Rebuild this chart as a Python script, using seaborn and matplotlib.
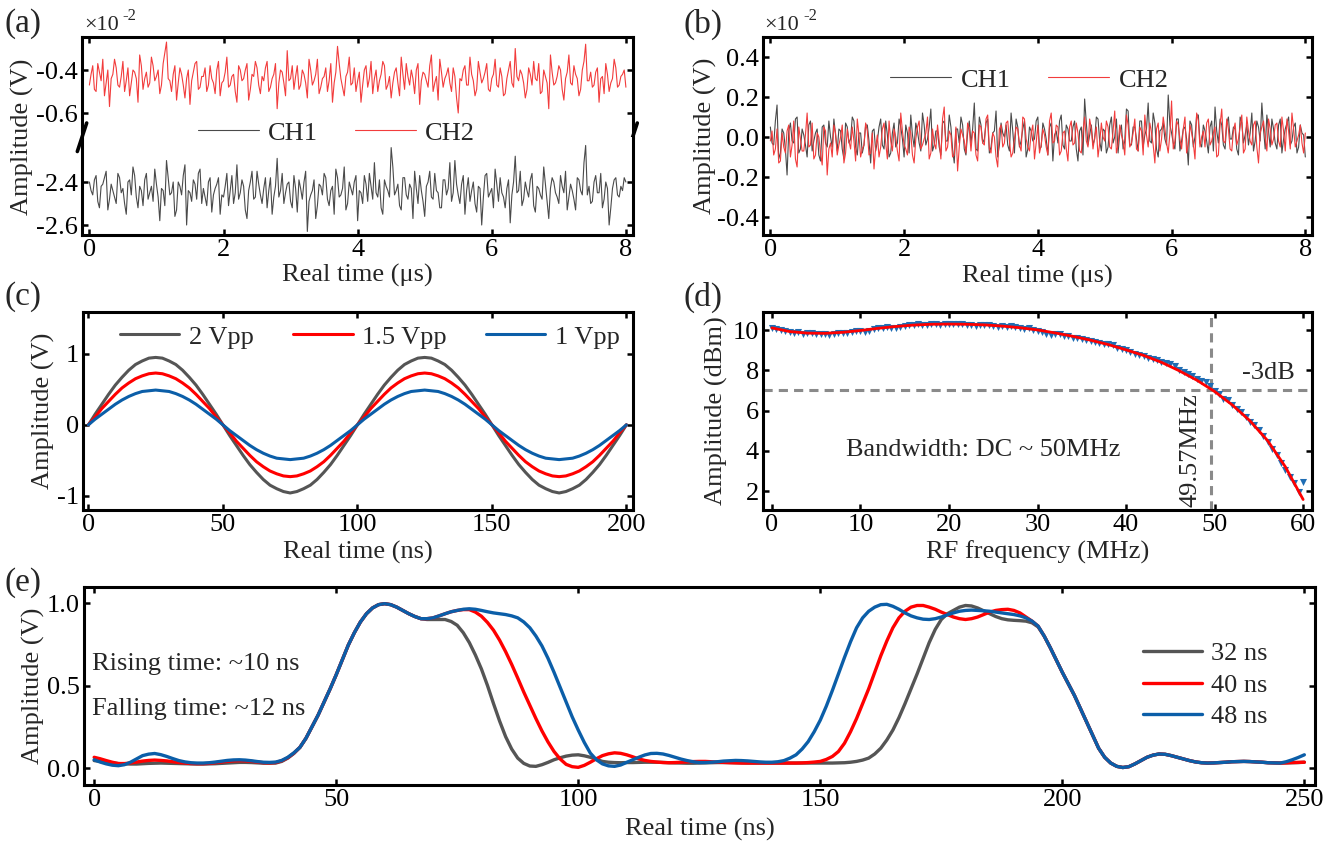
import numpy as np
import matplotlib
matplotlib.use("Agg")
import matplotlib.pyplot as plt
from matplotlib.ticker import FormatStrFormatter
import seaborn as sns

# ============ DATA ============
# (a) / (b): noise traces, amplitude in units of 1e-2 V, 0..8 us
TEMPO_US = np.linspace(0, 8, 161)          # samples on the 0.05 us grid
TEMPO_US_MEIO = np.linspace(0.025, 7.975, 160)  # samples in between

CH1_A = [
    -2.40, -2.46, -2.37, -2.52, -2.41, -2.35, -2.48, -2.44, -2.50, -2.38,
    -2.43, -2.55, -2.39, -2.33, -2.47, -2.42, -2.51, -2.36, -2.45, -2.49,
    -2.41, -2.58, -2.44, -2.30, -2.46, -2.40, -2.53, -2.42, -2.37, -2.60,
    -2.45, -2.39, -2.48, -2.34, -2.43, -2.51, -2.38, -2.46, -2.41, -2.55,
    -2.47, -2.36, -2.44, -2.50, -2.32, -2.45, -2.42, -2.57, -2.40, -2.48,
    -2.35, -2.46, -2.43, -2.52, -2.38, -2.47, -2.29, -2.44, -2.50, -2.41,
    -2.49, -2.37, -2.54, -2.43, -2.40, -2.63, -2.46, -2.39, -2.51, -2.42,
    -2.36, -2.48, -2.44, -2.55, -2.38, -2.46, -2.33, -2.50, -2.43, -2.40,
    -2.58, -2.45, -2.37, -2.49, -2.42, -2.31, -2.47, -2.52, -2.39, -2.44,
    -2.24, -2.46, -2.41, -2.53, -2.38, -2.48, -2.43, -2.35, -2.50, -2.44,
    -2.56, -2.40, -2.47, -2.36, -2.45, -2.52, -2.39, -2.43, -2.49, -2.30,
    -2.46, -2.41, -2.55, -2.38, -2.44, -2.50, -2.42, -2.60, -2.37, -2.47,
    -2.43, -2.34, -2.49, -2.45, -2.52, -2.39, -2.46, -2.28, -2.44, -2.51,
    -2.40, -2.47, -2.36, -2.54, -2.43, -2.48, -2.41, -2.57, -2.38, -2.45,
    -2.50, -2.42, -2.35, -2.47, -2.44, -2.53, -2.39, -2.46, -2.23, -2.42,
    -2.49, -2.37, -2.45, -2.52, -2.40, -2.60, -2.43, -2.38, -2.47, -2.44,
    -2.40,
]
CH1_A_MEIO = [
    -2.44, -2.39, -2.49, -2.42, -2.38, -2.53, -2.41, -2.47, -2.36, -2.45,
    -2.50, -2.40, -2.46, -2.37, -2.52, -2.44, -2.39, -2.48, -2.42, -2.34,
    -2.47, -2.43, -2.51, -2.38, -2.45, -2.56, -2.40, -2.46, -2.32, -2.44,
    -2.49, -2.41, -2.36, -2.50, -2.47, -2.40, -2.54, -2.43, -2.38, -2.46,
    -2.42, -2.51, -2.37, -2.45, -2.48, -2.39, -2.53, -2.44, -2.35, -2.47,
    -2.41, -2.50, -2.38, -2.44, -2.55, -2.42, -2.47, -2.36, -2.45, -2.40,
    -2.52, -2.43, -2.39, -2.48, -2.35, -2.49, -2.44, -2.57, -2.41, -2.46,
    -2.38, -2.51, -2.42, -2.34, -2.47, -2.43, -2.53, -2.40, -2.46, -2.37,
    -2.44, -2.50, -2.41, -2.36, -2.48, -2.45, -2.39, -2.55, -2.42, -2.47,
    -2.33, -2.44, -2.51, -2.38, -2.46, -2.41, -2.57, -2.43, -2.37, -2.49,
    -2.42, -2.35, -2.48, -2.44, -2.52, -2.39, -2.46, -2.31, -2.45, -2.41,
    -2.50, -2.37, -2.44, -2.49, -2.40, -2.54, -2.43, -2.47, -2.36, -2.45,
    -2.52, -2.41, -2.38, -2.47, -2.43, -2.59, -2.40, -2.45, -2.35, -2.48,
    -2.44, -2.39, -2.51, -2.42, -2.46, -2.33, -2.49, -2.43, -2.40, -2.47,
    -2.37, -2.45, -2.53, -2.41, -2.48, -2.38, -2.44, -2.31, -2.46, -2.50,
    -2.40, -2.45, -2.36, -2.48, -2.43, -2.52, -2.39, -2.46, -2.42, -2.38,
]
CH2_A = [
    -0.47, -0.38, -0.50, -0.41, -0.35, -0.46, -0.57, -0.42, -0.39, -0.48,
    -0.36, -0.45, -0.52, -0.40, -0.44, -0.33, -0.49, -0.41, -0.46, -0.38,
    -0.43, -0.51, -0.37, -0.27, -0.45, -0.42, -0.54, -0.39, -0.47, -0.44,
    -0.56, -0.41, -0.36, -0.48, -0.43, -0.50, -0.38, -0.46, -0.40, -0.52,
    -0.45, -0.34, -0.47, -0.42, -0.55, -0.40, -0.44, -0.37, -0.49, -0.43,
    -0.39, -0.51, -0.45, -0.36, -0.48, -0.42, -0.58, -0.40, -0.46, -0.31,
    -0.44, -0.49, -0.38, -0.47, -0.42, -0.53, -0.40, -0.45, -0.35, -0.48,
    -0.43, -0.50, -0.37, -0.46, -0.29, -0.44, -0.52, -0.41, -0.47, -0.39,
    -0.45, -0.55, -0.40, -0.48, -0.36, -0.44, -0.50, -0.42, -0.38, -0.47,
    -0.53, -0.41, -0.46, -0.34, -0.49, -0.43, -0.40, -0.51, -0.37, -0.45,
    -0.42, -0.48, -0.33, -0.46, -0.54, -0.41, -0.44, -0.39, -0.50, -0.43,
    -0.60, -0.45, -0.38, -0.47, -0.42, -0.52, -0.36, -0.46, -0.41, -0.49,
    -0.44, -0.35, -0.48, -0.43, -0.51, -0.40, -0.46, -0.30, -0.45, -0.42,
    -0.53, -0.39, -0.47, -0.44, -0.37, -0.50, -0.43, -0.58, -0.41, -0.46,
    -0.38, -0.49, -0.44, -0.33, -0.47, -0.42, -0.52, -0.40, -0.28, -0.45,
    -0.48, -0.41, -0.55, -0.43, -0.37, -0.50, -0.44, -0.39, -0.47, -0.42,
    -0.48,
]
CH2_A_MEIO = [
    -0.42, -0.49, -0.37, -0.45, -0.52, -0.40, -0.44, -0.35, -0.47, -0.43,
    -0.50, -0.39, -0.46, -0.41, -0.55, -0.38, -0.44, -0.48, -0.34, -0.45,
    -0.40, -0.47, -0.32, -0.44, -0.50, -0.38, -0.46, -0.42, -0.53, -0.40,
    -0.45, -0.37, -0.49, -0.43, -0.39, -0.47, -0.44, -0.51, -0.36, -0.46,
    -0.41, -0.48, -0.43, -0.50, -0.38, -0.45, -0.40, -0.54, -0.42, -0.36,
    -0.47, -0.43, -0.39, -0.50, -0.44, -0.37, -0.46, -0.41, -0.52, -0.45,
    -0.38, -0.43, -0.49, -0.40, -0.46, -0.35, -0.47, -0.42, -0.51, -0.44,
    -0.39, -0.45, -0.55, -0.41, -0.37, -0.48, -0.43, -0.34, -0.46, -0.50,
    -0.41, -0.47, -0.38, -0.44, -0.51, -0.40, -0.45, -0.36, -0.49, -0.43,
    -0.46, -0.39, -0.52, -0.42, -0.37, -0.47, -0.44, -0.40, -0.56, -0.41,
    -0.45, -0.38, -0.50, -0.43, -0.35, -0.48, -0.42, -0.46, -0.39, -0.53,
    -0.44, -0.40, -0.47, -0.34, -0.45, -0.49, -0.41, -0.44, -0.37, -0.50,
    -0.42, -0.47, -0.39, -0.52, -0.44, -0.36, -0.48, -0.43, -0.40, -0.46,
    -0.49, -0.42, -0.36, -0.45, -0.51, -0.40, -0.46, -0.33, -0.47, -0.43,
    -0.40, -0.54, -0.41, -0.46, -0.38, -0.44, -0.49, -0.36, -0.45, -0.41,
    -0.47, -0.39, -0.44, -0.51, -0.42, -0.46, -0.35, -0.48, -0.43, -0.40,
]
CH1_B = [
    0.05, -0.04, 0.16, -0.08, 0.02, -0.19, 0.07, -0.03, 0.10, -0.06,
    0.01, -0.10, 0.08, -0.02, 0.04, -0.12, 0.06, -0.05, 0.00, 0.09,
    -0.07, 0.03, -0.11, 0.05, -0.01, 0.08, -0.09, 0.02, -0.04, 0.06,
    -0.13, 0.04, -0.02, 0.09, -0.06, 0.01, -0.08, 0.07, -0.03, 0.05,
    -0.10, 0.02, 0.11, -0.05, 0.03, -0.07, 0.06, -0.01, 0.14, -0.04,
    0.03, -0.09, 0.08, -0.02, 0.05, -0.13, 0.04, 0.10, -0.06, 0.02,
    -0.03, 0.17, -0.07, 0.06, -0.01, 0.09, -0.05, 0.03, -0.10, 0.07,
    0.00, -0.04, 0.12, -0.08, 0.05, -0.02, 0.08, -0.06, 0.03, -0.01,
    0.10, -0.05, 0.04, -0.09, 0.07, 0.01, -0.03, 0.11, -0.06, 0.04,
    -0.02, 0.08, -0.12, 0.05, 0.19, -0.04, 0.06, -0.01, 0.09, -0.07,
    0.03, -0.05, 0.10, 0.00, -0.08, 0.06, -0.02, 0.13, -0.04, 0.05,
    -0.07, 0.08, 0.01, 0.17, -0.03, 0.07, -0.10, 0.04, -0.01, 0.21,
    0.02, -0.06, 0.09, -0.02, 0.05, -0.14, 0.06, 0.00, 0.11, -0.05,
    0.03, -0.08, 0.08, 0.15, -0.03, 0.06, -0.06, 0.10, -0.01, 0.04,
    -0.09, 0.07, 0.01, -0.04, 0.12, -0.02, 0.05, 0.17, -0.06, 0.03,
    0.09, -0.03, 0.06, -0.08, 0.04, 0.10, -0.02, 0.07, -0.05, 0.02,
    -0.10,
]
CH1_B_MEIO = [
    -0.03, 0.08, -0.11, 0.04, -0.06, 0.03, -0.02, 0.09, -0.08, 0.04,
    -0.04, 0.06, -0.07, 0.02, -0.09, 0.05, -0.03, 0.08, -0.05, 0.01,
    0.04, -0.06, 0.07, -0.03, 0.10, -0.05, 0.02, -0.08, 0.06, -0.02,
    0.03, -0.07, 0.05, -0.04, 0.08, -0.10, 0.02, -0.05, 0.09, -0.01,
    0.06, -0.08, 0.01, 0.07, -0.03, 0.12, -0.04, 0.05, -0.07, 0.03,
    -0.05, 0.07, -0.02, 0.11, -0.06, 0.04, -0.03, 0.06, -0.09, 0.08,
    0.04, -0.06, 0.10, -0.03, 0.07, -0.08, 0.02, 0.13, -0.04, 0.02,
    0.06, -0.07, 0.03, 0.09, -0.05, 0.04, -0.10, 0.05, -0.02, 0.08,
    -0.06, 0.07, -0.01, 0.05, -0.12, 0.03, 0.08, -0.04, 0.06, -0.02,
    0.05, -0.06, 0.03, -0.09, 0.07, 0.01, -0.04, 0.10, -0.02, 0.04,
    -0.08, 0.06, -0.03, 0.09, 0.02, -0.06, 0.14, -0.04, 0.05, -0.01,
    0.08, -0.05, 0.04, -0.02, 0.12, -0.06, 0.03, 0.07, -0.04, 0.06,
    -0.03, 0.09, -0.07, 0.04, -0.01, 0.08, -0.05, 0.11, -0.03, 0.06,
    -0.02, 0.05, -0.07, 0.03, 0.09, -0.04, 0.07, -0.01, 0.05, -0.06,
    0.10, -0.03, 0.06, 0.02, -0.07, 0.08, -0.02, 0.04, 0.11, -0.05,
    0.04, -0.06, 0.09, -0.01, 0.07, -0.04, 0.05, -0.08, 0.06, 0.01,
]
CH2_B = [
    -0.02, -0.09, 0.04, -0.12, -0.05, 0.03, -0.10, 0.08, -0.15, -0.01,
    -0.07, 0.12, -0.04, -0.11, 0.02, -0.08, 0.05, -0.19, -0.03, 0.06,
    -0.09, 0.00, -0.13, 0.04, -0.06, -0.02, 0.09, -0.10, -0.04, 0.03,
    -0.08, -0.16, 0.01, -0.05, 0.07, -0.11, -0.02, 0.04, -0.07, 0.12,
    -0.04, -0.09, 0.02, -0.13, 0.05, -0.06, -0.01, 0.10, -0.08, -0.03,
    0.06, -0.11, 0.15, -0.05, 0.01, -0.09, -0.17, 0.04, -0.02, 0.07,
    -0.07, 0.02, -0.12, 0.05, -0.04, 0.11, -0.08, 0.00, -0.15, 0.06,
    -0.03, 0.08, -0.10, -0.01, 0.04, -0.07, 0.09, -0.05, 0.02, -0.11,
    0.06, -0.04, 0.01, -0.09, 0.12, -0.02, 0.05, -0.07, 0.03, -0.12,
    0.08, -0.03, 0.02, -0.08, 0.10, -0.05, 0.04, 0.00, -0.10, 0.07,
    -0.02, 0.05, -0.06, 0.13, -0.04, 0.01, -0.09, 0.06, -0.03, 0.09,
    -0.07, 0.03, 0.11, -0.05, 0.02, -0.13, 0.07, -0.01, 0.04, -0.08,
    0.18, -0.02, 0.06, -0.06, 0.10, -0.04, 0.02, -0.11, 0.08, 0.00,
    -0.05, 0.09, -0.02, 0.05, -0.09, 0.14, -0.03, 0.04, -0.07, 0.07,
    -0.01, 0.11, -0.06, 0.03, -0.04, 0.08, -0.13, 0.05, 0.00, 0.09,
    -0.04, 0.06, -0.02, 0.10, -0.07, 0.03, 0.12, -0.05, 0.01, -0.03,
    0.02,
]
CH2_B_MEIO = [
    0.03, -0.06, -0.13, 0.02, -0.08, 0.06, -0.04, -0.11, 0.05, -0.07,
    0.01, -0.05, 0.07, -0.09, 0.00, -0.14, 0.03, -0.06, -0.10, 0.02,
    -0.04, 0.06, -0.08, -0.02, 0.05, -0.12, 0.01, -0.06, 0.07, -0.09,
    0.02, -0.05, -0.10, 0.04, -0.03, 0.08, -0.07, 0.00, -0.12, 0.03,
    -0.06, 0.05, -0.09, -0.01, 0.08, -0.04, 0.02, -0.11, 0.04, -0.06,
    -0.02, 0.09, -0.07, 0.03, -0.10, 0.05, -0.05, 0.01, -0.08, 0.04,
    0.03, -0.09, 0.06, -0.03, 0.09, -0.06, 0.02, -0.10, 0.04, -0.05,
    0.07, -0.02, -0.08, 0.05, -0.04, 0.10, -0.01, -0.07, 0.06, -0.03,
    -0.08, 0.04, -0.05, 0.08, -0.03, 0.06, -0.09, 0.02, -0.06, 0.05,
    -0.04, 0.07, -0.07, 0.03, -0.02, 0.09, -0.06, 0.05, -0.03, 0.00,
    0.08, -0.05, 0.03, -0.08, 0.06, -0.02, 0.11, -0.05, 0.02, -0.06,
    0.05, -0.09, 0.01, 0.07, -0.04, 0.04, -0.07, 0.10, -0.03, 0.02,
    -0.06, 0.08, -0.01, 0.04, -0.08, 0.06, -0.03, 0.12, -0.05, 0.03,
    0.07, -0.04, 0.02, -0.10, 0.06, -0.02, 0.09, -0.06, 0.03, -0.04,
    0.05, -0.08, 0.10, -0.02, 0.06, -0.05, 0.02, 0.08, -0.07, 0.04,
    -0.01, 0.07, -0.05, 0.03, 0.09, -0.06, 0.04, -0.02, 0.06, -0.08,
]

# (c): sine outputs, 0..200 ns every 2.5 ns
TEMPO_C = np.linspace(0, 200, 81)
V2PP = [
    0, .15, .29, .43, .56, .67, .77, .85, .90, .94, .95, .94, .90, .85, .77, .67, .56, .43, .29, .15,
    0, -.15, -.29, -.43, -.56, -.67, -.77, -.85, -.90, -.94, -.96, -.94, -.90, -.85, -.77, -.67, -.56, -.43, -.29, -.15,
    0, .15, .29, .43, .56, .67, .77, .85, .90, .94, .95, .94, .90, .85, .77, .67, .56, .43, .29, .15,
    0, -.15, -.29, -.43, -.56, -.67, -.77, -.85, -.90, -.94, -.96, -.94, -.90, -.85, -.77, -.67, -.56, -.43, -.29, -.15,
    0,
]
V15PP = [
    0, .11, .23, .33, .43, .52, .59, .65, .69, .72, .73, .72, .69, .65, .59, .52, .43, .33, .23, .11,
    0, -.11, -.23, -.33, -.43, -.52, -.59, -.65, -.69, -.72, -.73, -.72, -.69, -.65, -.59, -.52, -.43, -.33, -.23, -.11,
    0, .11, .23, .33, .43, .52, .59, .65, .69, .72, .73, .72, .69, .65, .59, .52, .43, .33, .23, .11,
    0, -.11, -.23, -.33, -.43, -.52, -.59, -.65, -.69, -.72, -.73, -.72, -.69, -.65, -.59, -.52, -.43, -.33, -.23, -.11,
    0,
]
V1PP = [
    0, .08, .15, .22, .29, .35, .40, .44, .47, .48, .49, .48, .47, .44, .40, .35, .29, .22, .15, .08,
    0, -.08, -.15, -.22, -.29, -.35, -.40, -.44, -.47, -.48, -.49, -.48, -.47, -.44, -.40, -.35, -.29, -.22, -.15, -.08,
    0, .08, .15, .22, .29, .35, .40, .44, .47, .48, .49, .48, .47, .44, .40, .35, .29, .22, .15, .08,
    0, -.08, -.15, -.22, -.29, -.35, -.40, -.44, -.47, -.48, -.49, -.48, -.47, -.44, -.40, -.35, -.29, -.22, -.15, -.08,
    0,
]
LABELS_C = ["2 Vpp", "1.5 Vpp", "1 Vpp"]

# (d): frequency response
FREQ_PTS = np.linspace(0, 60, 121)
AMP_PTS = [
    10.12, 10.05, 10.00, 9.96, 9.92, 9.88, 9.90, 9.82, 9.84, 9.86,
    9.80, 9.79, 9.80, 9.78, 9.80, 9.84, 9.86, 9.88, 9.90, 9.97,
    9.96, 9.92, 9.98, 10.05, 10.08, 10.10, 10.14, 10.12, 10.10, 10.16,
    10.22, 10.24, 10.26, 10.32, 10.24, 10.26, 10.30, 10.28, 10.26, 10.29,
    10.30, 10.28, 10.30, 10.31, 10.27, 10.25, 10.22, 10.27, 10.26, 10.24,
    10.20, 10.16, 10.18, 10.15, 10.18, 10.14, 10.10, 10.04, 10.08, 10.02,
    9.98, 9.90, 9.82, 9.75, 9.82, 9.80, 9.72, 9.70, 9.62, 9.60,
    9.55, 9.52, 9.48, 9.40, 9.36, 9.32, 9.30, 9.24, 9.12, 9.08,
    9.02, 8.90, 8.82, 8.78, 8.70, 8.62, 8.58, 8.52, 8.40, 8.36,
    8.30, 8.20, 8.00, 7.90, 7.82, 7.70, 7.56, 7.45, 7.40, 7.20,
    6.95, 6.82, 6.60, 6.52, 6.30, 6.10, 5.95, 5.70, 5.42, 5.30,
    5.05, 4.75, 4.45, 4.10, 3.80, 3.40, 3.05, 2.70, 2.40, 1.95,
    2.45,
]
FREQ_FIT = np.arange(0, 61, 2)
AMP_FIT = [10.11, 9.93, 9.85, 9.84, 9.89, 9.98, 10.09, 10.18, 10.25, 10.29,
           10.30, 10.29, 10.26, 10.20, 10.12, 10.01, 9.86, 9.69, 9.50, 9.28,
           9.02, 8.74, 8.40, 7.98, 7.51, 6.95, 6.28, 5.49, 4.50, 3.20, 1.58]
LIMITE_3DB = 7.0
FREQ_CORTE = 49.57

# (e): pulse response, 0..250 ns, read every 2.5 ns plus the half steps
TEMPO_E = np.linspace(0, 250, 101)
TEMPO_E_MEIO = np.linspace(1.25, 248.75, 100)
P32 = [
    0.045, 0.035, 0.027, 0.024, 0.026, 0.029, 0.029, 0.027, 0.025, 0.024,
    0.026, 0.030, 0.034, 0.033, 0.029, 0.030, 0.060, 0.125, 0.25, 0.40,
    0.565, 0.745, 0.885, 0.97, 0.996, 0.975, 0.935, 0.905, 0.90, 0.90,
    0.865, 0.76, 0.60, 0.39, 0.19, 0.06, 0.012, 0.02, 0.05, 0.072,
    0.08, 0.065, 0.04, 0.033, 0.033, 0.034, 0.035, 0.034, 0.031, 0.029,
    0.030, 0.032, 0.033, 0.032, 0.030, 0.030, 0.030, 0.030, 0.030, 0.030,
    0.030, 0.030, 0.032, 0.040, 0.06, 0.12, 0.23, 0.39, 0.57, 0.76,
    0.90, 0.955, 0.985, 0.97, 0.935, 0.905, 0.895, 0.89, 0.855, 0.73,
    0.58, 0.44, 0.28, 0.12, 0.03, 0.003, 0.025, 0.065, 0.085, 0.075,
    0.055, 0.037, 0.030, 0.033, 0.038, 0.040, 0.037, 0.032, 0.030, 0.032,
    0.035,
]
P32_MEIO = [
    0.040, 0.030, 0.025, 0.024, 0.028, 0.030, 0.028, 0.026, 0.024, 0.025,
    0.028, 0.032, 0.034, 0.031, 0.029, 0.040, 0.088, 0.18, 0.32, 0.48,
    0.655, 0.82, 0.935, 0.99, 0.99, 0.955, 0.918, 0.90, 0.90, 0.888,
    0.82, 0.685, 0.50, 0.285, 0.115, 0.028, 0.010, 0.034, 0.062, 0.078,
    0.074, 0.052, 0.035, 0.032, 0.033, 0.035, 0.035, 0.032, 0.030, 0.029,
    0.031, 0.033, 0.033, 0.031, 0.030, 0.030, 0.030, 0.030, 0.030, 0.030,
    0.030, 0.031, 0.035, 0.048, 0.085, 0.17, 0.305, 0.48, 0.665, 0.84,
    0.935, 0.975, 0.982, 0.953, 0.918, 0.898, 0.893, 0.88, 0.80, 0.655,
    0.51, 0.36, 0.20, 0.065, 0.01, 0.008, 0.045, 0.078, 0.083, 0.065,
    0.045, 0.032, 0.031, 0.035, 0.039, 0.039, 0.035, 0.031, 0.031, 0.033,
]
P40 = [
    0.065, 0.045, 0.027, 0.030, 0.042, 0.048, 0.043, 0.033, 0.027, 0.026,
    0.032, 0.040, 0.044, 0.040, 0.032, 0.033, 0.062, 0.125, 0.25, 0.40,
    0.565, 0.745, 0.885, 0.97, 0.996, 0.975, 0.935, 0.905, 0.91, 0.935,
    0.955, 0.96, 0.92, 0.835, 0.705, 0.545, 0.38, 0.225, 0.10, 0.022,
    0.004, 0.035, 0.075, 0.092, 0.08, 0.055, 0.04, 0.033, 0.033, 0.037,
    0.040, 0.038, 0.034, 0.031, 0.030, 0.030, 0.030, 0.030, 0.030, 0.033,
    0.040, 0.07, 0.15, 0.30, 0.48, 0.68, 0.85, 0.95, 0.985, 0.975,
    0.945, 0.915, 0.90, 0.915, 0.945, 0.96, 0.955, 0.915, 0.86, 0.73,
    0.58, 0.44, 0.28, 0.12, 0.03, 0.003, 0.025, 0.065, 0.085, 0.075,
    0.055, 0.037, 0.030, 0.033, 0.038, 0.040, 0.037, 0.032, 0.030, 0.033,
    0.035,
]
P40_MEIO = [
    0.056, 0.035, 0.027, 0.036, 0.046, 0.046, 0.038, 0.030, 0.026, 0.028,
    0.036, 0.043, 0.043, 0.036, 0.031, 0.044, 0.090, 0.18, 0.32, 0.48,
    0.655, 0.82, 0.935, 0.99, 0.99, 0.955, 0.918, 0.905, 0.922, 0.947,
    0.96, 0.945, 0.882, 0.775, 0.628, 0.46, 0.30, 0.158, 0.055, 0.008,
    0.016, 0.056, 0.086, 0.089, 0.068, 0.046, 0.036, 0.032, 0.035, 0.039,
    0.040, 0.036, 0.032, 0.030, 0.030, 0.030, 0.030, 0.030, 0.031, 0.036,
    0.052, 0.10, 0.22, 0.39, 0.58, 0.77, 0.91, 0.975, 0.985, 0.962,
    0.93, 0.905, 0.905, 0.93, 0.955, 0.962, 0.94, 0.89, 0.80, 0.655,
    0.51, 0.36, 0.20, 0.065, 0.01, 0.008, 0.045, 0.078, 0.083, 0.065,
    0.045, 0.032, 0.031, 0.035, 0.039, 0.039, 0.035, 0.031, 0.031, 0.034,
]
P48 = [
    0.050, 0.025, 0.014, 0.035, 0.075, 0.088, 0.070, 0.045, 0.032, 0.030,
    0.036, 0.046, 0.050, 0.044, 0.035, 0.036, 0.065, 0.125, 0.25, 0.40,
    0.565, 0.745, 0.885, 0.97, 0.996, 0.975, 0.935, 0.905, 0.91, 0.935,
    0.955, 0.965, 0.955, 0.94, 0.93, 0.91, 0.85, 0.74, 0.58, 0.40,
    0.23, 0.09, 0.025, 0.01, 0.034, 0.065, 0.088, 0.085, 0.065, 0.045,
    0.033, 0.035, 0.042, 0.046, 0.043, 0.037, 0.035, 0.045, 0.08, 0.16,
    0.29, 0.47, 0.67, 0.85, 0.95, 0.99, 0.98, 0.94, 0.91, 0.90,
    0.915, 0.94, 0.955, 0.955, 0.95, 0.94, 0.93, 0.91, 0.86, 0.73,
    0.58, 0.44, 0.28, 0.12, 0.03, 0.003, 0.025, 0.065, 0.085, 0.075,
    0.055, 0.037, 0.030, 0.033, 0.038, 0.040, 0.037, 0.032, 0.030, 0.050,
    0.080,
]
P48_MEIO = [
    0.036, 0.017, 0.020, 0.055, 0.084, 0.081, 0.057, 0.037, 0.030, 0.032,
    0.041, 0.049, 0.048, 0.039, 0.034, 0.046, 0.092, 0.18, 0.32, 0.48,
    0.655, 0.82, 0.935, 0.99, 0.99, 0.955, 0.918, 0.905, 0.922, 0.947,
    0.962, 0.962, 0.947, 0.935, 0.922, 0.885, 0.80, 0.665, 0.49, 0.31,
    0.155, 0.05, 0.013, 0.018, 0.05, 0.079, 0.089, 0.076, 0.054, 0.038,
    0.033, 0.038, 0.044, 0.045, 0.040, 0.035, 0.038, 0.06, 0.115, 0.22,
    0.375, 0.57, 0.765, 0.91, 0.975, 0.992, 0.962, 0.922, 0.902, 0.905,
    0.928, 0.95, 0.957, 0.953, 0.945, 0.935, 0.922, 0.89, 0.80, 0.655,
    0.51, 0.36, 0.20, 0.065, 0.01, 0.008, 0.045, 0.078, 0.083, 0.065,
    0.045, 0.032, 0.031, 0.035, 0.039, 0.039, 0.035, 0.031, 0.038, 0.064,
]
LABELS_E = ["32 ns", "40 ns", "48 ns"]
# ==============================

CINZA = "#555555"
VERMELHO = "#ff0000"
AZUL = "#0b5ea8"
CINZA_RUIDO = "#4a4a4a"
VERMELHO_RUIDO = "#f23c3c"
FS = 19

sns.set_theme(style="ticks", rc={
    "axes.linewidth": 2.2,
    "axes.edgecolor": "black",
    "xtick.direction": "in",
    "ytick.direction": "in",
    "xtick.major.size": 4,
    "ytick.major.size": 4,
    "xtick.major.width": 1.8,
    "ytick.major.width": 1.8,
    "axes.unicode_minus": False,
})
plt.rcParams["font.family"] = ["Liberation Serif", "DejaVu Serif"]

W, H = 1328, 844


def caixa(l, t, r, b):
    return [l / W, 1 - b / H, (r - l) / W, (b - t) / H]


def eixos(ax, top=True, bottom=True):
    ax.tick_params(axis="both", which="major", labelsize=FS, pad=3,
                   top=top, bottom=bottom, right=True, left=True,
                   labeltop=False, labelright=False, labelbottom=bottom,
                   colors="black")
    ax.set_xlabel("")
    ax.set_ylabel("")


def tira_legenda(ax):
    if ax.get_legend() is not None:
        ax.get_legend().remove()


def junta(t1, v1, t2, v2):
    return np.concatenate([t1, t2]), np.concatenate([v1, v2])


fig = plt.figure(figsize=(W / 100, H / 100), dpi=100)

# ---------- (a) broken axis ----------
ax_at = fig.add_axes(caixa(82, 37, 632.6, 137))
ax_ab = fig.add_axes(caixa(82, 137, 632.6, 235))
tx, vy = junta(TEMPO_US, CH1_A, TEMPO_US_MEIO, CH1_A_MEIO)
sns.lineplot(x=tx, y=vy, ax=ax_ab, color=CINZA_RUIDO, lw=0.8, label="CH1")
tx, vy = junta(TEMPO_US, CH2_A, TEMPO_US_MEIO, CH2_A_MEIO)
sns.lineplot(x=tx, y=vy, ax=ax_at, color=VERMELHO_RUIDO, lw=0.8, label="CH2")
for ax in (ax_at, ax_ab):
    ax.set_xlim(-0.11, 8.1)
    ax.set_xticks([0, 2, 4, 6, 8])
    tira_legenda(ax)
ax_at.set_ylim(-0.7116, -0.2465)
ax_at.set_yticks([-0.4, -0.6])
ax_ab.set_ylim(-2.6465, -2.1907)
ax_ab.set_yticks([-2.4, -2.6])
ax_at.spines["bottom"].set_visible(False)
ax_ab.spines["top"].set_visible(False)
eixos(ax_at, top=True, bottom=False)
eixos(ax_ab, top=False, bottom=True)
for ax in (ax_at, ax_ab):
    ax.yaxis.set_major_formatter(FormatStrFormatter("%.1f"))
ax_ab.set_xlabel("Real time (μs)", fontsize=FS)
ax_ab.xaxis.set_label_coords(0.5, -0.30)
fig.text(22 / W, 1 - 137 / H, "Amplitude (V)", rotation=90, fontsize=FS,
         ha="center", va="center")
# break marks
for x0 in (0.0, 1.0):
    ax_at.plot([x0 - 0.0085, x0 + 0.0085], [-0.145, 0.14], color="black",
               lw=2.6, transform=ax_at.transAxes, clip_on=False, zorder=5)
h1, l1 = ax_ab.get_legend_handles_labels()
h2, l2 = ax_at.get_legend_handles_labels()
fig.legend(h1 + h2, l1 + l2, loc="center left", bbox_to_anchor=(198 / W, 1 - 133 / H),
           bbox_transform=fig.transFigure, ncol=2, frameon=False, fontsize=FS,
           handlelength=2.3, handletextpad=0.35, columnspacing=1.4,
           borderpad=0, borderaxespad=0)

# ---------- (b) ----------
ax_b = fig.add_axes(caixa(763, 37, 1312, 235))
tx, vy = junta(TEMPO_US, CH1_B, TEMPO_US_MEIO, CH1_B_MEIO)
sns.lineplot(x=tx, y=vy, ax=ax_b, color=CINZA_RUIDO, lw=0.8, label="CH1")
tx, vy = junta(TEMPO_US, CH2_B, TEMPO_US_MEIO, CH2_B_MEIO)
sns.lineplot(x=tx, y=vy, ax=ax_b, color=VERMELHO_RUIDO, lw=0.8, label="CH2")
ax_b.set_xlim(-0.11, 8.1)
ax_b.set_ylim(-0.49, 0.5)
ax_b.set_xticks([0, 2, 4, 6, 8])
ax_b.set_yticks([-0.4, -0.2, 0.0, 0.2, 0.4])
eixos(ax_b)
ax_b.yaxis.set_major_formatter(FormatStrFormatter("%.1f"))
ax_b.set_xlabel("Real time (μs)", fontsize=FS)
ax_b.xaxis.set_label_coords(0.5, -0.15)
ax_b.set_ylabel("Amplitude (V)", fontsize=FS)
ax_b.yaxis.set_label_coords(-0.083, 0.5)
tira_legenda(ax_b)
ax_b.legend(loc="center left", bbox_to_anchor=(0.231, 0.783), ncol=2, frameon=False,
            fontsize=FS, handlelength=2.3, handletextpad=0.4, columnspacing=1.4,
            borderpad=0, borderaxespad=0)

# ---------- (c) ----------
ax_c = fig.add_axes(caixa(83.3, 312, 632.6, 510))
for serie, cor, rot in zip((V2PP, V15PP, V1PP), (CINZA, VERMELHO, AZUL), LABELS_C):
    sns.lineplot(x=TEMPO_C, y=serie, ax=ax_c, color=cor, lw=2.2, label=rot)
ax_c.set_xlim(-1.9, 202.3)
ax_c.set_ylim(-1.2, 1.59)
ax_c.set_xticks([0, 50, 100, 150, 200])
ax_c.set_yticks([-1, 0, 1])
eixos(ax_c)
ax_c.set_xlabel("Real time (ns)", fontsize=FS)
ax_c.xaxis.set_label_coords(0.5, -0.156)
ax_c.set_ylabel("Amplitude (V)", fontsize=FS)
ax_c.yaxis.set_label_coords(-0.052, 0.5)
tira_legenda(ax_c)
ax_c.legend(loc="center left", bbox_to_anchor=(0.067, 0.874), ncol=3, frameon=False,
            fontsize=FS, handlelength=2.25, handletextpad=0.35, columnspacing=1.5,
            borderpad=0, borderaxespad=0)

# ---------- (d) ----------
ax_d = fig.add_axes(caixa(763, 312, 1312, 510))
ax_d.axhline(LIMITE_3DB, color="#8a8a8a", lw=2.2, ls=(0, (3, 2)), zorder=1)
ax_d.axvline(FREQ_CORTE, color="#8a8a8a", lw=2.2, ls=(0, (3, 2)), zorder=1)
sns.scatterplot(x=FREQ_PTS, y=AMP_PTS, ax=ax_d, marker="v", s=26, color="#1f6db4",
                edgecolor="#1f6db4", linewidth=0, zorder=2)
sns.lineplot(x=FREQ_FIT, y=AMP_FIT, ax=ax_d, color=VERMELHO, lw=2.0, zorder=3)
ax_d.set_xlim(-1, 61)
ax_d.set_ylim(1.06, 10.9)
ax_d.set_xticks([0, 10, 20, 30, 40, 50, 60])
ax_d.set_yticks([2, 4, 6, 8, 10])
eixos(ax_d)
ax_d.set_xlabel("RF frequency (MHz)", fontsize=FS)
ax_d.xaxis.set_label_coords(0.5, -0.156)
ax_d.set_ylabel("Amplitude (dBm)", fontsize=FS)
ax_d.yaxis.set_label_coords(-0.063, 0.5)
ax_d.text(53.1, 7.86, "-3dB", fontsize=FS, ha="left", va="center")
ax_d.text(47.3, 4.04, "49.57MHz", fontsize=FS, rotation=90, ha="center", va="center")
ax_d.text(23.9, 4.04, "Bandwidth: DC ~ 50MHz", fontsize=FS, ha="center", va="center")
tira_legenda(ax_d)

# ---------- (e) ----------
ax_e = fig.add_axes(caixa(84, 587, 1315, 785))
for serie, meio, cor, rot in zip((P32, P40, P48), (P32_MEIO, P40_MEIO, P48_MEIO),
                                 (CINZA, VERMELHO, AZUL), LABELS_E):
    tx, vy = junta(TEMPO_E, serie, TEMPO_E_MEIO, meio)
    sns.lineplot(x=tx, y=vy, ax=ax_e, color=cor, lw=2.4, label=rot)
ax_e.set_xlim(-2.1, 252.2)
ax_e.set_ylim(-0.103, 1.097)
ax_e.set_xticks([0, 50, 100, 150, 200, 250])
ax_e.set_yticks([0.0, 0.5, 1.0])
eixos(ax_e)
ax_e.yaxis.set_major_formatter(FormatStrFormatter("%.1f"))
ax_e.set_xlabel("Real time (ns)", fontsize=FS)
ax_e.xaxis.set_label_coords(0.5, -0.166)
ax_e.set_ylabel("Amplitude (V)", fontsize=FS)
ax_e.yaxis.set_label_coords(-0.032, 0.5)
ax_e.text(-0.4, 0.63, "Rising time: ~10 ns", fontsize=FS, ha="left", va="center")
ax_e.text(-0.4, 0.356, "Falling time: ~12 ns", fontsize=FS, ha="left", va="center")
tira_legenda(ax_e)
ax_e.legend(loc="center left", bbox_to_anchor=(0.86, 0.505), frameon=False,
            fontsize=FS, handlelength=2.25, handletextpad=0.35, labelspacing=0.3,
            borderpad=0, borderaxespad=0)

# ---------- panel labels & exponent ----------
for rot, x, y in [("(a)", 23, 24), ("(b)", 702.6, 24), ("(c)", 23, 297),
                  ("(d)", 702.6, 297), ("(e)", 23, 583)]:
    fig.text(x / W, 1 - y / H, rot, fontsize=24, ha="center", va="center")
for x, xs in [(84, 122), (764, 803)]:
    fig.text(x / W, 1 - 30 / H, "×10", fontsize=16, ha="left", va="baseline")
    fig.text(xs / W, 1 - 20 / H, "-2", fontsize=12, ha="left", va="baseline")

fig.savefig("out.png", dpi=100)
plt.close(fig)
